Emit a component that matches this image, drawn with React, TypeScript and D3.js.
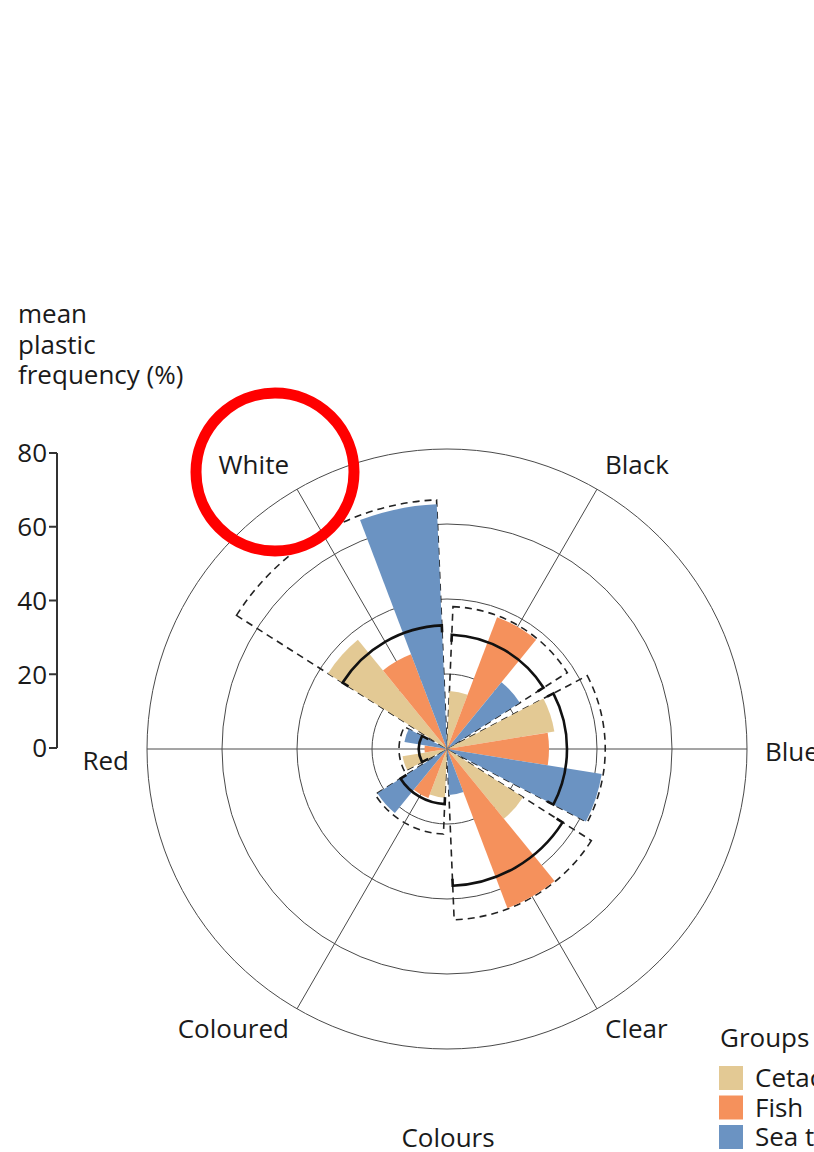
import React from 'react';
import * as d3 from 'd3';

const categories = ["White", "Black", "Blue", "Clear", "Coloured", "Red"];
const groups = ["Cetaceans", "Fish", "Sea turtles"];
const cetaceans = [37.6, 15.5, 29, 24, 13, 12];
const fish = [27, 37.6, 27.2, 45.4, 14, 6];
const seaTurtles = [65.3, 23, 41.8, 12.3, 22, 11.5];
const sectorMean = [33, 30.5, 32, 36.5, 14.7, 7.5];
const sectorUpper = [66.5, 38, 42.2, 45.6, 22.7, 12.8];
const radialTicks = [0, 20, 40, 60, 80];
const groupColors = ["#e3c994", "#f5915c", "#6b93c2"];
const titleLines = ["mean", "plastic", "frequency (%)"];

const W = 814, H = 1152, cx = 447, cy = 749;
const FONT = "'Open Sans', sans-serif";
const TXT = "#1a1a1a";

export default function App() {
  const r = d3.scaleLinear().domain([0, 80]).range([0, 300]);
  const x = d3.scaleBand<string>().domain(categories)
    .range([-Math.PI / 3, 2 * Math.PI - Math.PI / 3])
    .paddingInner(0.08).paddingOuter(0.04);
  const bw = x.bandwidth();
  const xg = d3.scaleBand<string>().domain(groups).range([0, bw]);
  const series = [cetaceans, fish, seaTurtles];
  const arc = d3.arc<any>();
  const yAxis = d3.scaleLinear().domain([0, 80]).range([748, 453]);
  const pt = (rad: number, a: number): [number, number] => [cx + rad * Math.sin(a), cy - rad * Math.cos(a)];
  const center = (c: string) => (x(c) as number) + bw / 2;

  const meanPath = (i: number) => {
    const c = categories[i];
    const a0 = x(c) as number, a1 = a0 + bw;
    const rm = r(sectorMean[i]);
    const p = d3.path();
    p.moveTo(...pt(rm - 7, a0));
    p.lineTo(...pt(rm, a0));
    p.arc(cx, cy, rm, a0 - Math.PI / 2, a1 - Math.PI / 2, false);
    p.lineTo(...pt(rm - 7, a1));
    return p.toString();
  };

  return (
    <svg width={W} height={H} style={{ position: 'absolute', left: 0, top: 0, background: '#fff' }}
      fontFamily={FONT}>
      {/* y axis */}
      <g>
        {titleLines.map((t, i) => (
          <text key={t} x={18} y={323 + i * 30.5} fontSize={26} fill={TXT}>{t}</text>
        ))}
        <line x1={57} x2={57} y1={yAxis(80)} y2={yAxis(0)} stroke="#333" strokeWidth={2} />
        {radialTicks.map(t => (
          <g key={t}>
            <line x1={49} x2={57} y1={yAxis(t)} y2={yAxis(t)} stroke="#333" strokeWidth={2} />
            <text x={47} y={yAxis(t)} dy="0.36em" textAnchor="end" fontSize={26} fill={TXT}>{t}</text>
          </g>
        ))}
      </g>
      {/* grid */}
      <g>
        {radialTicks.filter(t => t > 0).map(t => (
          <circle key={t} cx={cx} cy={cy} r={r(t)} fill="none" stroke="#4a4a4a" strokeWidth={1} />
        ))}
        {categories.map(c => {
          const [x2, y2] = pt(r(80), center(c));
          return <line key={c} x1={cx} y1={cy} x2={x2} y2={y2} stroke="#4a4a4a" strokeWidth={1} />;
        })}
      </g>
      {/* dashed upper outlines */}
      <g transform={`translate(${cx},${cy})`}>
        {categories.map((c, i) => (
          <path key={c} d={arc({ innerRadius: 0, outerRadius: r(sectorUpper[i]), startAngle: x(c), endAngle: (x(c) as number) + bw }) as string}
            fill="none" stroke="#222" strokeWidth={1.6} strokeDasharray="7 5" />
        ))}
      </g>
      {/* bars */}
      <g transform={`translate(${cx},${cy})`}>
        {categories.map((c, i) => groups.map((g, j) => {
          const a0 = (x(c) as number) + (xg(g) as number);
          return (
            <path key={c + g} d={arc({ innerRadius: 0, outerRadius: r(series[j][i]), startAngle: a0, endAngle: a0 + xg.bandwidth() }) as string}
              fill={groupColors[j]} />
          );
        }))}
      </g>
      {/* mean arcs */}
      <g>
        {categories.map((c, i) => (
          <path key={c} d={meanPath(i)} fill="none" stroke="#111" strokeWidth={2.6} />
        ))}
      </g>
      {/* category labels */}
      <g>
        {categories.map(c => {
          const a = center(c);
          const s = Math.sin(a), co = Math.cos(a);
          const [lx, ly] = pt(Math.abs(co) < 0.1 ? 318 : 316, a);
          const anchor = s > 0.1 ? 'start' : s < -0.1 ? 'end' : 'middle';
          const dy = co > 0.1 ? '-0.05em' : co < -0.1 ? '0.6em' : (s < 0 ? '0.82em' : '0.45em');
          return <text key={c} x={lx} y={ly} dy={dy} textAnchor={anchor} fontSize={26} fill={TXT}>{c}</text>;
        })}
      </g>
      <text x={448} y={1147} textAnchor="middle" fontSize={26} fill={TXT}>Colours</text>
      {/* legend */}
      <g>
        <text x={720} y={1047} fontSize={26} fill={TXT}>Groups</text>
        {groups.map((g, j) => (
          <g key={g}>
            <rect x={719} y={1066 + j * 29.5} width={24} height={24} fill={groupColors[j]} />
            <text x={755} y={1066 + j * 29.5 + 21} fontSize={26} fill={TXT}>{g}</text>
          </g>
        ))}
      </g>
      {/* annotation */}
      <circle cx={275} cy={472} r={79} fill="none" stroke="#ff0000" strokeWidth={11} />
    </svg>
  );
}
